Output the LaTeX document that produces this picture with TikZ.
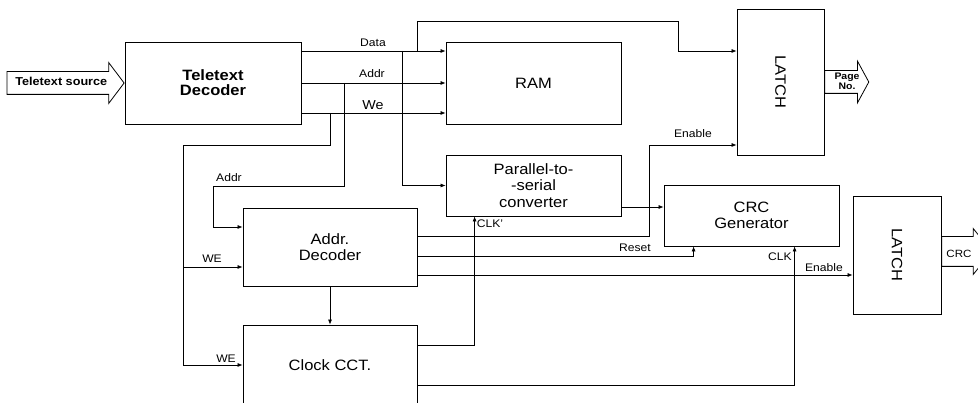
\documentclass[tikz,border=0pt]{standalone}
\usepackage{fontspec}
\setmainfont{Liberation Sans}[FakeStretch=1.1]
\usepackage{tikz}
\usetikzlibrary{arrows.meta,positioning,shapes.arrows}
\tikzset{
  blockbox/.style={draw, line width=0.8pt, inner sep=0pt, align=center, font=\fontsize{15}{16.5}\selectfont},
  flow/.style={-{Latex[length=5pt,width=4pt]}, line width=0.7pt},
  sig/.style={anchor=base, inner sep=0pt, font=\fontsize{11}{12}\selectfont},
  hollowarrow/.style={draw, single arrow, line width=0.8pt, inner xsep=0pt, text height=0pt, text depth=0pt}
}

\begin{document}
\begin{tikzpicture}[x=1pt, y=-1pt]
        \clip (0,0) rectangle (978,403);
        \node[blockbox, font=\bfseries\fontsize{15}{15}\selectfont, minimum width=176pt, minimum height=82pt] (dec) at (213,83) {Teletext\\Decoder};
        \node[blockbox, minimum width=175pt, minimum height=82pt] (ram) at (533.5,83) {RAM};
        \node[blockbox, minimum width=175pt, minimum height=61pt] (p2s) at (533.5,185.5) {Parallel-to-\\-serial\\converter};
        \node[blockbox, minimum width=87pt, minimum height=146pt] (latchA) at (780.5,82) {\rotatebox{-90}{LATCH}};
        \node[blockbox, minimum width=175pt, minimum height=61pt] (crc) at (751.5,215.5) {CRC\\Generator};
        \node[blockbox, minimum width=88pt, minimum height=118pt] (latchB) at (897,255) {\rotatebox{-90}{LATCH}};
        \node[blockbox, minimum width=174pt, minimum height=78pt] (adec) at (330,247) {Addr.\\Decoder};
        \node[blockbox, minimum width=174pt, minimum height=80pt] (clk) at (330,365) {Clock CCT.};
        \node[hollowarrow, anchor=tip, font=\bfseries\fontsize{11.5}{12}\selectfont, text height=8.3pt, text depth=2.5pt, inner ysep=5.6pt, single arrow head extend=9pt, single arrow tip angle=106, minimum height=117pt] (src) at (dec.west) {Teletext source};
        \node[hollowarrow, anchor=tail, inner ysep=11pt, single arrow head extend=9.5pt, single arrow tip angle=123, minimum height=44pt] (page) at (latchA.east) {};
        \node[sig, align=center, font=\bfseries\fontsize{9.5}{10.5}\selectfont] at (847,90) {Page\\No.};
        \node[hollowarrow, anchor=tail, inner ysep=14.5pt, single arrow head extend=8pt, single arrow tip angle=102, minimum height=50pt] (crcout) at ([yshift=3.5pt]latchB.east) {};
        \node[sig, font=\fontsize{10.5}{12}\selectfont] at (959,258) {CRC};
        \draw[flow] (dec.east |- 0,51) -- (ram.west |- 0,51);
        \node[sig] at (373,47) {Data};
        \draw[flow] (dec.east) -- (ram.west);
        \node[sig] at (372,78) {Addr};
        \draw[flow] (dec.east |- 0,113) -- (ram.west |- 0,113);
        \node[sig, font=\fontsize{13}{14}\selectfont] at (373,110) {We};
        \draw[flow] (402,51) |- (p2s.west);
        \draw[flow] (417,51) |- (678,21) |- (latchA.west |- 0,51);
        \draw[flow] (344,83) |- (213,186) |- (adec.west |- 0,227);
        \node[sig] at (229,182) {Addr};
        \draw[flow] (330,113) |- (183,145) |- (clk.west);
        \draw[flow] (183,267) -- (adec.west |- 0,267);
        \node[sig] at (212,263) {WE};
        \node[sig] at (226,363) {WE};
        \draw[flow] (adec.south) -- (clk.north);
        \draw[flow] (adec.east |- 0,236) -| (649,145) -- (latchA.west |- 0,145);
        \node[sig] at (693,138) {Enable};
        \draw[flow] (p2s.east |- 0,207) -- (crc.west |- 0,207);
        \draw[flow] (adec.east |- 0,256) -| ([xshift=30pt]crc.south west);
        \node[sig] at (635,252) {Reset};
        \draw[flow] (adec.east |- 0,275) -- (latchB.west |- 0,275);
        \node[sig] at (824,272) {Enable};
        \draw[flow] (clk.east |- 0,345) -| ([xshift=29pt]p2s.south west);
        \node[sig] at (490,228) {CLK'};
        \draw[flow] (clk.east |- 0,385) -| ([xshift=131pt]crc.south west);
        \node[sig] at (780,261) {CLK};
      \end{tikzpicture}
\end{document}
